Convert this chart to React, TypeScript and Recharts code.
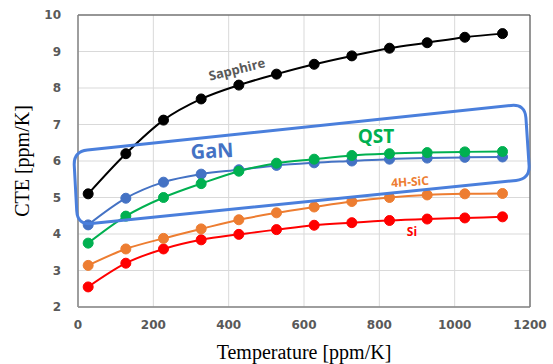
import React from 'react'
import { CartesianGrid, Line, LineChart, ReferenceArea, XAxis, YAxis } from 'recharts'

// temperatures of the measured points
const temps = [27, 127, 227, 327, 427, 527, 627, 727, 827, 927, 1027, 1127]

// CTE values [ppm/K]
const sapphire = [5.1, 6.2, 7.12, 7.7, 8.08, 8.38, 8.65, 8.88, 9.09, 9.24, 9.39, 9.49]
const gan = [4.25, 4.98, 5.42, 5.64, 5.76, 5.88, 5.95, 6.0, 6.05, 6.08, 6.1, 6.11]
const qst = [3.75, 4.49, 5.0, 5.38, 5.72, 5.94, 6.05, 6.15, 6.2, 6.23, 6.25, 6.26]
const sic = [3.14, 3.59, 3.88, 4.14, 4.39, 4.58, 4.74, 4.89, 5.0, 5.07, 5.1, 5.11]
const si = [2.55, 3.2, 3.59, 3.84, 3.99, 4.12, 4.24, 4.31, 4.37, 4.41, 4.44, 4.47]

const xTicks = [0, 200, 400, 600, 800, 1000, 1200]
const yTicks = [2, 3, 4, 5, 6, 7, 8, 9, 10]

const data = temps.map((t, i) => ({
  t,
  sapphire: sapphire[i],
  gan: gan[i],
  qst: qst[i],
  sic: sic[i],
  si: si[i],
}))

const series = [
  { key: 'si', color: '#FF0000' },
  { key: 'sic', color: '#ED7D31' },
  { key: 'gan', color: '#4472C4' },
  { key: 'qst', color: '#00B050' },
  { key: 'sapphire', color: '#000000' },
]

// rounded quadrilateral outline for the highlight box
function roundedPath(pts: number[][], r: number) {
  const n = pts.length
  let d = ''
  for (let i = 0; i < n; i++) {
    const p = pts[i]
    const prev = pts[(i - 1 + n) % n]
    const next = pts[(i + 1) % n]
    const a = toward(p, prev, r)
    const b = toward(p, next, r)
    d += (i === 0 ? 'M' : 'L') + a[0] + ',' + a[1] + ' Q' + p[0] + ',' + p[1] + ' ' + b[0] + ',' + b[1] + ' '
  }
  return d + 'Z'
}

function toward(p: number[], q: number[], r: number) {
  const dx = q[0] - p[0]
  const dy = q[1] - p[1]
  const len = Math.sqrt(dx * dx + dy * dy)
  return [p[0] + (dx / len) * r, p[1] + (dy / len) * r]
}

const boxCorners = [
  [73.5, 151.5],
  [525, 104],
  [530, 179],
  [77.5, 225],
]

const tickStyle = { fill: '#595959', fontSize: 12, fontWeight: 700, fontFamily: 'DejaVu Sans' }
const labelFont = 'Open Sans'

export default function App() {
  return (
    <div style={{ position: 'absolute', left: 0, top: 0, width: 553, height: 364, background: '#fff' }}>
      <LineChart width={553} height={364} data={data} margin={{ top: 15, right: 23, left: 38, bottom: 27 }}>
        <CartesianGrid stroke="#d9d9d9" strokeWidth={1} />
        <XAxis
          dataKey="t"
          type="number"
          domain={[0, 1200]}
          ticks={xTicks}
          height={30}
          tickLine={false}
          tickMargin={7}
          stroke="#a6a6a6"
          tick={tickStyle}
          label={{
            value: 'Temperature [ppm/K]',
            position: 'bottom',
            offset: 8,
            style: { fill: '#000', fontSize: 20, fontFamily: 'Liberation Serif' },
          }}
        />
        <YAxis
          type="number"
          domain={[2, 10]}
          ticks={yTicks}
          width={40}
          tickLine={false}
          tickMargin={11}
          stroke="#a6a6a6"
          tick={tickStyle}
          label={{
            value: 'CTE [ppm/K]',
            angle: -90,
            position: 'insideLeft',
            offset: -16,
            style: { fill: '#000', fontSize: 20, fontFamily: 'Liberation Serif', textAnchor: 'middle' },
          }}
        />
        <ReferenceArea x1={0} x2={1200} y1={2} y2={10} fill="none" stroke="#404040" strokeWidth={1} />
        {series.map((s) => (
          <Line
            key={s.key}
            dataKey={s.key}
            type="monotone"
            stroke={s.color}
            strokeWidth={2}
            dot={{ r: 5, fill: s.color, stroke: s.color, strokeWidth: 1 }}
            isAnimationActive={false}
          />
        ))}
      </LineChart>

      {/* annotations */}
      <svg width={553} height={364} style={{ position: 'absolute', left: 0, top: 0, pointerEvents: 'none' }}>
        <path d={roundedPath(boxCorners, 14)} fill="none" stroke="#4a7fdc" strokeWidth={3} />
        <text x={237} y={74} textAnchor="middle" transform="rotate(-14 237 70)" fill="#595959"
          fontFamily={labelFont} fontWeight={700} fontSize={13}>Sapphire</text>
        <text x={212} y={158} textAnchor="middle" transform="rotate(-3 212 151)" fill="#4472C4"
          fontFamily={labelFont} fontWeight={700} fontSize={20}>GaN</text>
        <rect x={350} y={126} width={52} height={20} fill="#fff" />
        <text x={376} y={143} textAnchor="middle" fill="#00B050"
          fontFamily={labelFont} fontWeight={700} fontSize={19}>QST</text>
        <text x={410} y={186} textAnchor="middle" transform="rotate(-4 410 182)" fill="#ED7D31"
          fontFamily={labelFont} fontWeight={700} fontSize={12}>4H-SiC</text>
        <text x={412} y={236} textAnchor="middle" fill="#FF0000"
          fontFamily={labelFont} fontWeight={700} fontSize={12}>Si</text>
      </svg>
    </div>
  )
}
